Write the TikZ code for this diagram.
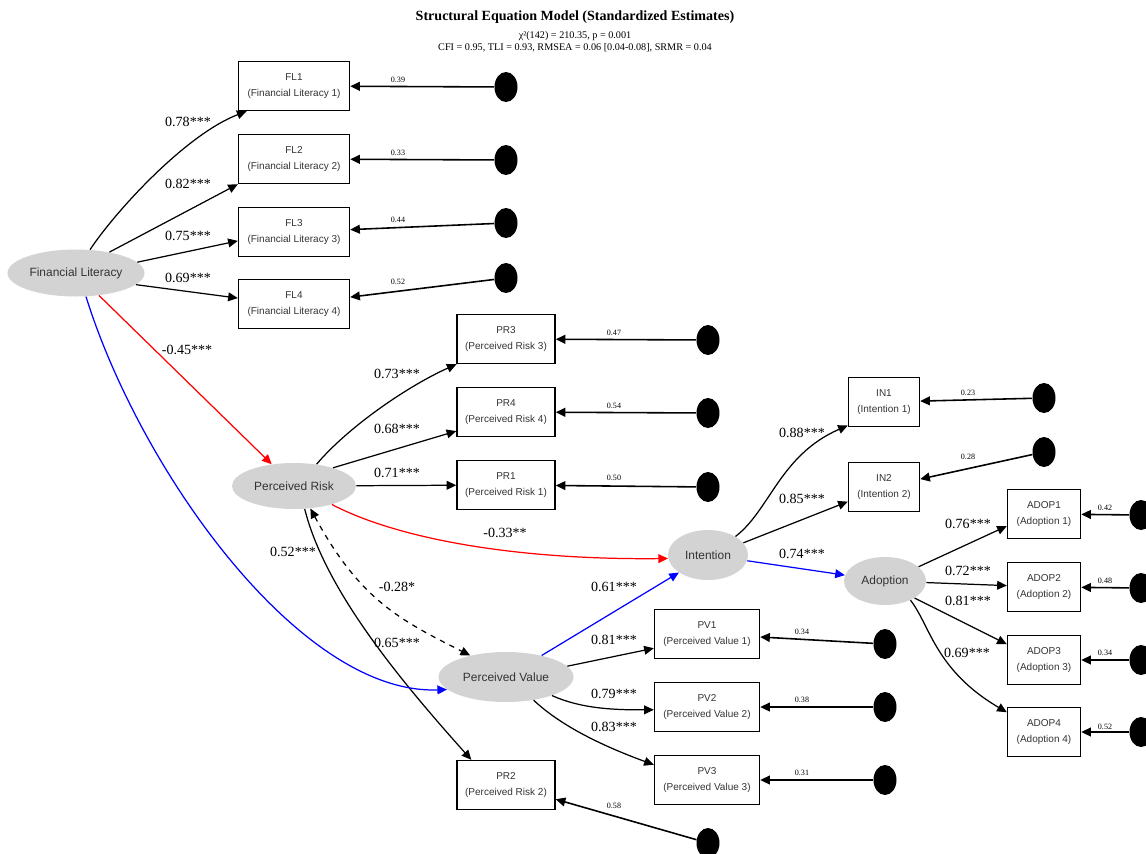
\documentclass[tikz,border=0pt]{standalone}
\usepackage{fontspec}
\setmainfont{Liberation Serif}
\newfontfamily\boxfont{Liberation Sans}
\usepackage{tikz}
\usetikzlibrary{shapes.geometric, arrows.meta, positioning}
\definecolor{latentgray}{HTML}{D3D3D3}
\definecolor{nodetext}{HTML}{333333}

\begin{document}
\begin{tikzpicture}[x=0.02cm, y=-0.02cm,
  latent/.style={ellipse, fill=latentgray, inner sep=0pt, text=nodetext, font=\boxfont\fontsize{6.8}{8}\selectfont},
  item/.style={rectangle, draw, line width=0.8pt, inner sep=0pt, minimum height=0.98cm, align=center, text=nodetext, font=\boxfont\fontsize{5.7}{9}\selectfont},
  resid/.style={ellipse, fill=black, inner sep=0pt, minimum width=0.46cm, minimum height=0.6cm},
  load/.style={line width=0.7pt, -{Triangle[length=5.5pt,width=5pt]}},
  errpath/.style={line width=0.9pt, -{Triangle[length=5.5pt,width=5pt]}},
  coef/.style={font=\fontsize{8}{9}\selectfont},
  errcoef/.style={font=\fontsize{4.6}{5}\selectfont}]
\useasboundingbox (0,0) rectangle (1146,853);

% Title
\node[font=\bfseries\fontsize{8}{9}\selectfont] (title) at (575,17) {Structural Equation Model (Standardized Estimates)};
\node[font=\fontsize{5.8}{6}\selectfont] (fit1) at (575,36) {χ²(142) = 210.35, p = 0.001};
\node[font=\fontsize{5.8}{6}\selectfont] (fit2) at (575,48) {CFI = 0.95, TLI = 0.93, RMSEA = 0.06 [0.04-0.08], SRMR = 0.04};

% Financial Literacy
\node[latent, minimum width=2.74cm, minimum height=0.94cm] (fl) at (76,273) {Financial Literacy};
\node[item, minimum width=2.22cm] (fl1) at (294,86) {FL1\\(Financial Literacy 1)};
\node[item, minimum width=2.22cm] (fl2) at (294,159) {FL2\\(Financial Literacy 2)};
\node[item, minimum width=2.22cm] (fl3) at (294,232) {FL3\\(Financial Literacy 3)};
\node[item, minimum width=2.22cm] (fl4) at (294,304) {FL4\\(Financial Literacy 4)};
\node[resid] (e_fl1) at (506,87) {};
\node[resid] (e_fl2) at (506,160) {};
\node[resid] (e_fl3) at (506,223) {};
\node[resid] (e_fl4) at (506,278) {};
\draw[load] (fl.59) .. controls (115,212) and (185,135) .. (fl1.208);
\draw[load] (fl.32) -- (fl2.south west);
\draw[load] (fl.10) -- (fl3.189);
\draw[load] (fl.-11) -- (fl4.174);
\draw[errpath] (e_fl1) -- (fl1);
\draw[errpath] (e_fl2) -- (fl2);
\draw[errpath] (e_fl3) -- (fl3);
\draw[errpath] (e_fl4) -- (fl4);
\node[coef] (c_fl1) at (188,122) {0.78***};
\node[coef] (c_fl2) at (188,184) {0.82***};
\node[coef] (c_fl3) at (188,236) {0.75***};
\node[coef] (c_fl4) at (188,278) {0.69***};
\node[errcoef] (v_fl1) at (398,80) {0.39};
\node[errcoef] (v_fl2) at (398,153) {0.33};
\node[errcoef] (v_fl3) at (398,220) {0.44};
\node[errcoef] (v_fl4) at (398,282) {0.52};

% Perceived Risk
\node[latent, minimum width=2.48cm, minimum height=0.92cm] (pr) at (294,486) {Perceived Risk};
\node[item, minimum width=1.96cm] (pr3) at (506,339) {PR3\\(Perceived Risk 3)};
\node[item, minimum width=1.96cm] (pr4) at (506,412) {PR4\\(Perceived Risk 4)};
\node[item, minimum width=1.96cm] (pr1) at (506,485) {PR1\\(Perceived Risk 1)};
\node[item, minimum width=1.96cm] (pr2) at (506,785) {PR2\\(Perceived Risk 2)};
\node[resid] (e_pr3) at (708,340) {};
\node[resid] (e_pr4) at (708,413) {};
\node[resid] (e_pr1) at (708,487) {};
\node[resid] (e_pr2) at (708,843) {};
\draw[load] (pr.44) .. controls (350,425) and (410,385) .. (pr3.207);
\draw[load] (pr.25) -- (pr4.201);
\draw[load] (pr) -- (pr1);
\draw[load] (pr.-65) .. controls (325,590) and (400,680) .. (pr2.144);
\draw[errpath] (e_pr3) -- (pr3);
\draw[errpath] (e_pr4) -- (pr4);
\draw[errpath] (e_pr1) -- (pr1);
\draw[errpath] (e_pr2) -- (pr2);
\node[coef] (c_pr3) at (397,374) {0.73***};
\node[coef] (c_pr4) at (397,429) {0.68***};
\node[coef] (c_pr1) at (397,473) {0.71***};
\node[coef] (c_pr2a) at (293,552) {0.52***};
\node[coef] (c_pr2) at (397,643) {0.65***};
\node[errcoef] (v_pr3) at (614,333) {0.47};
\node[errcoef] (v_pr4) at (614,406) {0.54};
\node[errcoef] (v_pr1) at (614,478) {0.50};
\node[errcoef] (v_pr2) at (614,806) {0.58};

% Perceived Value
\node[latent, minimum width=2.7cm, minimum height=1cm] (pv) at (506,677) {Perceived Value};
\node[item, minimum width=2.1cm] (pv1) at (707,634) {PV1\\(Perceived Value 1)};
\node[item, minimum width=2.1cm] (pv2) at (707,707) {PV2\\(Perceived Value 2)};
\node[item, minimum width=2.1cm] (pv3) at (707,780) {PV3\\(Perceived Value 3)};
\node[resid] (e_pv1) at (885,644) {};
\node[resid] (e_pv2) at (885,707) {};
\node[resid] (e_pv3) at (885,780) {};
\draw[load] (pv.10) -- (pv1.195);
\draw[load] (pv.-22) .. controls (580,708) and (610,710) .. (pv2.183);
\draw[load] (pv.-40) .. controls (560,725) and (600,745) .. (pv3.164);
\draw[errpath] (e_pv1) -- (pv1);
\draw[errpath] (e_pv2) -- (pv2);
\draw[errpath] (e_pv3) -- (pv3);
\node[coef] (c_pv1) at (614,640) {0.81***};
\node[coef] (c_pv2) at (614,694) {0.79***};
\node[coef] (c_pv3) at (614,727) {0.83***};
\node[errcoef] (v_pv1) at (802,632) {0.34};
\node[errcoef] (v_pv2) at (802,700) {0.38};
\node[errcoef] (v_pv3) at (802,773) {0.31};

% Intention
\node[latent, minimum width=1.6cm, minimum height=1cm] (int) at (708,555) {Intention};
\node[item, minimum width=1.42cm] (in1) at (884,402) {IN1\\(Intention 1)};
\node[item, minimum width=1.42cm] (in2) at (884,487) {IN2\\(Intention 2)};
\node[resid] (e_in1) at (1044,398) {};
\node[resid] (e_in2) at (1044,452) {};
\draw[load] (int.34) .. controls (770,510) and (780,455) .. (in1.213);
\draw[load] (int.19) -- (in2.202);
\draw[errpath] (e_in1) -- (in1);
\draw[errpath] (e_in2) -- (in2);
\node[coef] (c_in1) at (802,433) {0.88***};
\node[coef] (c_in2) at (802,499) {0.85***};
\node[errcoef] (v_in1) at (968,393) {0.23};
\node[errcoef] (v_in2) at (968,457) {0.28};

% Adoption
\node[latent, minimum width=1.64cm, minimum height=0.96cm] (adop) at (885,581) {Adoption};
\node[item, minimum width=1.46cm] (adop1) at (1044,514) {ADOP1\\(Adoption 1)};
\node[item, minimum width=1.46cm] (adop2) at (1044,587) {ADOP2\\(Adoption 2)};
\node[item, minimum width=1.46cm] (adop3) at (1044,660) {ADOP3\\(Adoption 3)};
\node[item, minimum width=1.46cm] (adop4) at (1044,732) {ADOP4\\(Adoption 4)};
\node[resid] (e_ad1) at (1141,515) {};
\node[resid] (e_ad2) at (1141,588) {};
\node[resid] (e_ad3) at (1141,660) {};
\node[resid] (e_ad4) at (1141,732) {};
\draw[load] (adop.23) -- (adop1.198);
\draw[load] (adop) -- (adop2);
\draw[load] (adop.-30) -- (adop3.157);
\draw[load] (adop.-37) .. controls (930,625) and (935,670) .. (adop4.152);
\draw[errpath] (e_ad1) -- (adop1);
\draw[errpath] (e_ad2) -- (adop2);
\draw[errpath] (e_ad3) -- (adop3);
\draw[errpath] (e_ad4) -- (adop4);
\node[coef] (c_ad1) at (968,524) {0.76***};
\node[coef] (c_ad2) at (968,571) {0.72***};
\node[coef] (c_ad3) at (968,601) {0.81***};
\node[coef] (c_ad4) at (967,653) {0.69***};
\node[errcoef] (v_ad1) at (1105,508) {0.42};
\node[errcoef] (v_ad2) at (1105,581) {0.48};
\node[errcoef] (v_ad3) at (1105,653) {0.34};
\node[errcoef] (v_ad4) at (1105,727) {0.52};

% Structural paths
\draw[load, red] (fl) -- (pr);
\draw[load, blue] (fl.-67) .. controls (140,470) and (300,695) .. (pv.192);
\draw[load, red] (pr.-26) .. controls (400,540) and (520,560) .. (int.185);
\draw[line width=0.7pt, dashed, {Triangle[length=5.5pt,width=5pt]}-{Triangle[length=5.5pt,width=5pt]}] (pr.-54) .. controls (360,600) and (400,620) .. (pv.149);
\draw[load, blue] (pv) -- (int);
\draw[load, blue] (int) -- (adop);
\node[coef] (c_flpr) at (187,350) {-0.45***};
\node[coef] (c_print) at (505,533) {-0.33**};
\node[coef] (c_prpv) at (397,587) {-0.28*};
\node[coef] (c_pvint) at (614,587) {0.61***};
\node[coef] (c_intad) at (802,554) {0.74***};
\end{tikzpicture}
\end{document}
